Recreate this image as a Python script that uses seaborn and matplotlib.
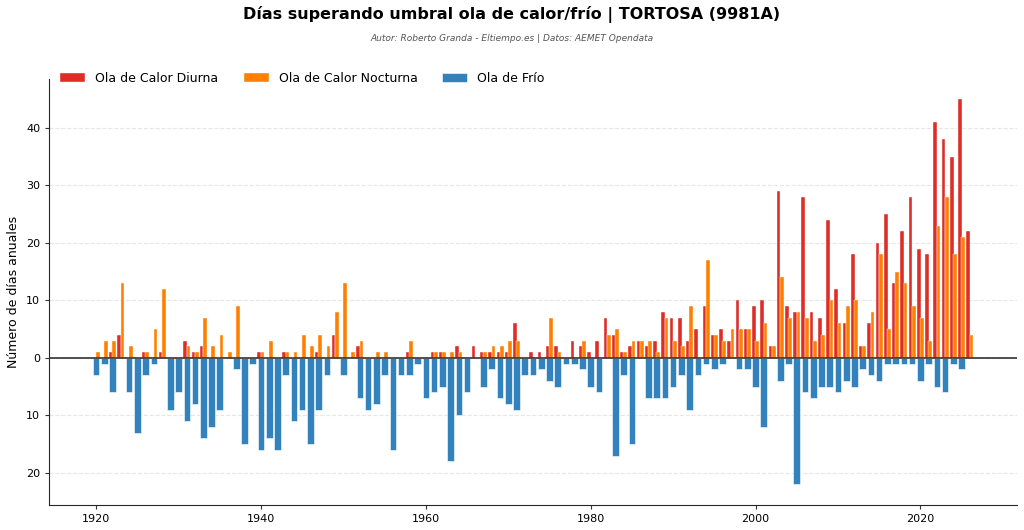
import numpy as np
import matplotlib
matplotlib.use("Agg")
import matplotlib.pyplot as plt
import seaborn as sns
from matplotlib.ticker import FuncFormatter

years = list(range(1920, 2027))
calor_diurna = [0,0,1,4,0,0,1,0,1,0, 0,3,1,2,0,0,0,0,0,0, 1,0,0,1,0,0,0,1,0,4,
                0,0,2,0,0,0,0,0,1,0, 0,1,1,0,2,0,2,1,1,1, 1,6,0,1,1,2,2,0,3,2,
                1,3,7,4,1,2,3,2,3,8, 7,7,3,5,9,4,5,3,10,5, 9,10,2,29,9,8,28,8,7,24,
                12,6,18,2,6,20,25,13,22,28, 19,18,41,38,35,45,22]
calor_nocturna = [1,3,3,13,2,0,1,5,12,0, 0,2,1,7,2,4,1,9,0,0, 1,3,0,1,1,4,2,4,2,8,
                  13,1,3,0,1,1,0,0,3,0, 0,1,1,1,1,0,0,1,2,2, 3,3,0,0,0,7,1,0,0,3,
                  0,0,4,5,1,3,3,3,1,7, 3,2,9,0,17,4,3,5,5,5, 3,6,2,14,7,8,7,3,4,10,
                  6,9,10,2,8,18,5,15,13,9, 7,3,23,28,18,21,4]
frio = [3,1,6,0,6,13,3,1,0,9, 6,11,8,14,12,9,0,2,15,1, 16,14,16,3,11,9,15,9,3,0,
        3,0,7,9,8,3,16,3,3,1, 7,6,5,18,10,6,0,5,2,7, 8,9,3,3,2,4,5,1,1,2,
        5,6,0,17,3,15,0,7,7,7, 5,3,9,3,1,2,1,0,2,2, 5,12,0,4,1,22,6,7,5,5,
        6,4,5,2,3,4,1,1,1,1, 4,1,5,6,1,2,0]

sns.set_style("white")
plt.rcParams['font.family'] = ['DejaVu Sans']
plt.rcParams['text.color'] = 'black'
plt.rcParams['axes.labelcolor'] = 'black'
plt.rcParams['xtick.color'] = 'black'
plt.rcParams['ytick.color'] = 'black'
fig = plt.figure(figsize=(10.24, 5.3), dpi=100)
ax = fig.add_axes([0.048, 0.048, 0.945, 0.803])

x = np.array(years)
ax.bar(x, -np.array(frio), width=0.8, color="#3182bd", edgecolor="white", linewidth=0.4, label="Ola de Frío", zorder=2)
ax.bar(x - 0.2, calor_diurna, width=0.45, color="#de2d26", edgecolor="white", linewidth=0.3, label="Ola de Calor Diurna", zorder=3)
ax.bar(x + 0.2, calor_nocturna, width=0.45, color="#ff7f00", edgecolor="white", linewidth=0.3, label="Ola de Calor Nocturna", zorder=3)
ax.axhline(0, color="#333333", linewidth=1.2, zorder=4)

ax.set_ylim(-25.5, 48.5)
ax.set_xlim(1914.3, 2031.7)
ax.set_yticks([-20, -10, 0, 10, 20, 30, 40])
ax.yaxis.set_major_formatter(FuncFormatter(lambda v, p: f"{abs(int(v))}"))
ax.set_xticks([1920, 1940, 1960, 1980, 2000, 2020])
ax.tick_params(labelsize=8, length=3, left=True, bottom=True, color="#333333")
ax.grid(axis="y", linestyle="--", color="#e6e6e6", linewidth=0.8, zorder=0)
sns.despine(ax=ax)
ax.set_ylabel("Número de días anuales", fontsize=9)

h, l = ax.get_legend_handles_labels()
order = [1, 2, 0]
ax.legend([h[i] for i in order], [l[i] for i in order], loc="lower left", bbox_to_anchor=(0.0, 0.96),
          ncol=3, frameon=False, fontsize=9, handlelength=2, columnspacing=2)

fig.text(0.5, 0.973, "Días superando umbral ola de calor/frío | TORTOSA (9981A)", ha="center", va="center",
         fontsize=11.5, fontweight="bold", color="black")
fig.text(0.5, 0.928, "Autor: Roberto Granda - Eltiempo.es | Datos: AEMET Opendata", ha="center", va="center",
         fontsize=6.5, style="italic", color="#555555")
fig.savefig("out.png", dpi=100)
